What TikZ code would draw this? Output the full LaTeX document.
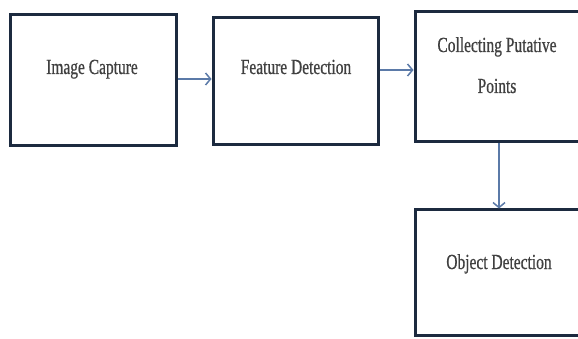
\documentclass[tikz,border=0pt]{standalone}
\usepackage{fontspec}
\setmainfont[FakeStretch=0.72,FakeBold=0.6]{Liberation Serif}
\usetikzlibrary{arrows.meta}
\definecolor{boxline}{HTML}{1C2A3F}
\definecolor{arrowc}{HTML}{5B7AA8}
\definecolor{txt}{HTML}{404040}
\tikzset{
  stagebox/.style={draw=boxline, line width=3pt, fill=white, inner sep=0pt},
  lbl/.style={anchor=base, text=txt, font=\fontsize{21.5}{21.5}\selectfont, inner sep=0pt},
  flow/.style={draw=arrowc, line width=1.5pt, -{Straight Barb[length=5pt,width=12pt,line width=1.5pt]}}
}
\begin{document}
\begin{tikzpicture}[x=1pt,y=-1pt]
\useasboundingbox (0,0) rectangle (578,339);
\clip (0,0) rectangle (578,339);
\fill[white] (0,0) rectangle (578,339);
\node[stagebox, minimum width=166pt, minimum height=131pt] (b1) at (93,80.5) {};
\node[stagebox, minimum width=165pt, minimum height=127pt] (b2) at (295.5,81.5) {};
\node[stagebox, minimum width=167pt, minimum height=130pt] (b3) at (498.5,77) {};
\node[stagebox, minimum width=167pt, minimum height=125pt] (b4) at (498.5,272.5) {};
\node[lbl] (t1) at (92,74) {Image Capture};
\node[lbl] (t2) at (296,74) {Feature Detection};
\node[lbl] (t3a) at (497,52) {Collecting Putative};
\node[lbl] (t3b) at (497,93) {Points};
\node[lbl] (t4) at (499,269) {Object Detection};
\draw[flow] (b1.east |- 0,79) -- (b2.west |- 0,79);
\draw[flow] (b2.east |- 0,70) -- (b3.west |- 0,70);
\draw[flow] (b3.south -| 499,0) -- (b4.north -| 499,0);
\end{tikzpicture}
\end{document}
